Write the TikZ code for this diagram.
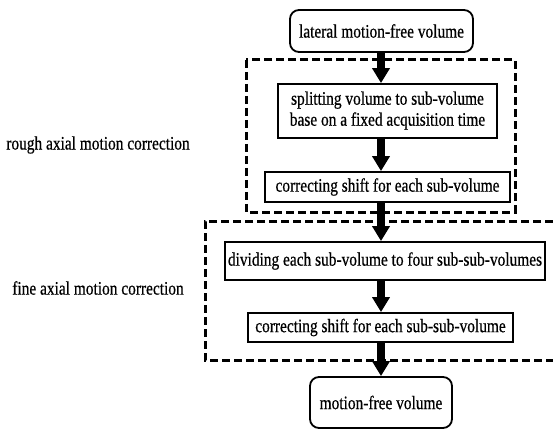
\documentclass[tikz,border=0pt]{standalone}
\usepackage{fontspec}
\usepackage{graphicx}
\setmainfont{Liberation Serif}[FakeBold=0.6]
\usetikzlibrary{arrows.meta}
% narrow serif lettering used for all labels
\newcommand\narrowtext[1]{\scalebox{0.81}[1]{#1}}
\begin{document}
\begin{tikzpicture}[x=1pt,y=-1pt,
  every node/.style={font=\fontsize{19}{21}\selectfont, inner sep=0pt},
  stepbox/.style={draw, line width=1.8pt, align=center},
  endbox/.style={stepbox, rounded corners=9pt},
  flow/.style={line width=8pt, -{Triangle[width=17pt,length=15pt]}},
  groupline/.style={line width=3pt, dash pattern=on 8pt off 4pt}]
\useasboundingbox (0,0) rectangle (553,430);
\fill[white] (0,0) rectangle (553,430);

% rough and fine correction groups
\draw[groupline] (246,60) rectangle (515,212);
\draw[groupline] (553,221) -- (205,221) -- (205,360) -- (553,360);

% processing steps
\node[endbox, minimum width=183pt, minimum height=42pt] (start) at (381.5,31)
  {\narrowtext{lateral motion-free volume}};
\node[stepbox, minimum width=219pt, minimum height=54pt] (split) at (387.5,111)
  {\narrowtext{\begin{tabular}{@{}c@{}}splitting volume to sub-volume\\base on a fixed acquisition time\end{tabular}}};
\node[stepbox, minimum width=245pt, minimum height=30pt] (shiftA) at (387.5,187)
  {\narrowtext{correcting shift for each sub-volume}};
\node[stepbox, minimum width=320pt, minimum height=38pt] (divide) at (385,261)
  {\narrowtext{dividing each sub-volume to four sub-sub-volumes}};
\node[stepbox, minimum width=265pt, minimum height=29pt] (shiftB) at (380.5,327.5)
  {\narrowtext{correcting shift for each sub-sub-volume}};
\node[endbox, minimum width=142pt, minimum height=51pt] (final) at (381,402.5)
  {\narrowtext{motion-free volume}};

% group labels
\node (roughlbl) at (98,145) {\narrowtext{rough axial motion correction}};
\node (finelbl) at (98,288) {\narrowtext{fine axial motion correction}};

% flow arrows along the central axis
\coordinate (axis) at (381,0);
\draw[flow] (start.south -| axis) -- (split.north -| axis);
\draw[flow] (split.south -| axis) -- (shiftA.north -| axis);
\draw[flow] (shiftA.south -| axis) -- (divide.north -| axis);
\draw[flow] (divide.south -| axis) -- (shiftB.north -| axis);
\draw[flow] (shiftB.south -| axis) -- (final.north -| axis);
\end{tikzpicture}
\end{document}
